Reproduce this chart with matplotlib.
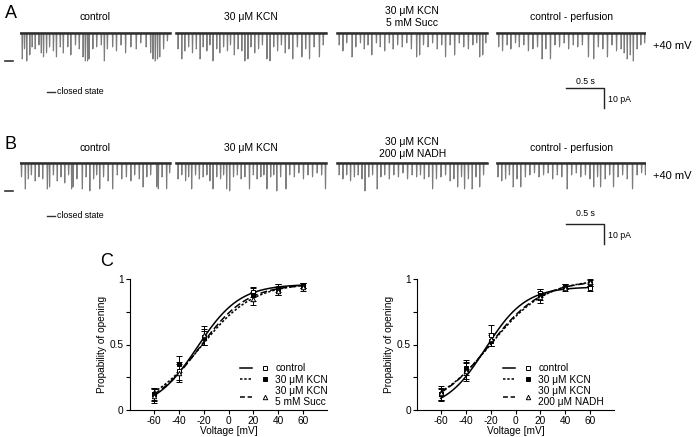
import numpy as np
import matplotlib
matplotlib.use("Agg")
import matplotlib.pyplot as plt
from matplotlib.lines import Line2D
from matplotlib.legend_handler import HandlerTuple

plt.rcParams['font.family'] = ['Liberation Sans', 'DejaVu Sans']
plt.rcParams['axes.unicode_minus'] = False

# ---------------- data: single-channel traces (event time [s], depth [pA]) ----------------
seg_titles_A = ["control", "30 \u03bcM KCN", "30 \u03bcM KCN\n5 mM Succ", "control - perfusion"]
seg_titles_B = ["control", "30 \u03bcM KCN", "30 \u03bcM KCN\n200 \u03bcM NADH", "control - perfusion"]

A1_t = [0.03,0.06,0.09,0.13,0.16,0.20,0.25,0.28,0.31,0.35,0.39,0.44,0.48,0.53,0.57,0.63,0.67,0.73,0.78,0.83,0.86,0.89,0.91,0.96,1.01,1.07,1.11,1.15,1.22,1.27,1.33,1.39,1.46,1.53,1.59,1.66,1.72,1.75,1.78,1.81,1.84,1.89,1.94]
A1_d = [13,8,14,11,7,8,6,10,12,10,7,9,12,7,10,7,11,6,8,12,14,14,13,8,7,6,14,8,7,9,6,10,7,8,5,7,10,13,14,13,12,8,4]
A2_t = [0.03,0.08,0.12,0.17,0.22,0.27,0.32,0.36,0.41,0.45,0.49,0.54,0.58,0.63,0.68,0.72,0.77,0.82,0.87,0.91,0.95,0.99,1.04,1.09,1.14,1.2,1.24,1.29,1.34,1.39,1.44,1.49,1.54,1.6,1.66,1.71,1.76,1.82,1.89,1.94]
A2_d = [8,13,9,7,10,8,13,7,9,6,14,8,10,7,9,6,11,8,9,14,13,7,10,8,6,13,14,7,9,6,10,8,13,7,12,8,13,7,12,6]
A3_t = [0.03,0.08,0.13,0.2,0.25,0.31,0.36,0.41,0.46,0.52,0.57,0.63,0.69,0.74,0.8,0.86,0.92,0.98,1.05,1.09,1.14,1.2,1.26,1.32,1.38,1.43,1.49,1.55,1.61,1.67,1.73,1.79,1.84,1.88,1.92,1.96]
A3_d = [6,9,5,12,7,5,8,6,11,5,7,9,5,8,6,7,5,8,12,11,6,7,5,8,6,12,6,11,5,7,8,6,5,12,11,5]
A4_t = [0.03,0.08,0.14,0.19,0.25,0.3,0.36,0.42,0.48,0.54,0.6,0.65,0.71,0.77,0.83,0.89,0.95,1.01,1.07,1.13,1.21,1.28,1.34,1.4,1.46,1.52,1.58,1.64,1.68,1.72,1.76,1.8,1.85,1.9,1.95]
A4_d = [7,9,6,8,5,7,6,9,8,7,13,8,13,6,7,5,8,6,7,6,12,13,7,8,12,6,9,8,10,13,11,14,8,6,5]

B1_t = [0.02,0.07,0.11,0.15,0.2,0.25,0.3,0.36,0.39,0.44,0.49,0.54,0.59,0.64,0.68,0.7,0.75,0.82,0.87,0.92,0.97,1.01,1.05,1.1,1.16,1.22,1.28,1.34,1.4,1.46,1.51,1.57,1.62,1.67,1.72,1.8,1.82,1.87,1.93,1.97]
B1_d = [7,13,8,6,9,7,8,13,12,6,9,7,10,6,13,12,8,13,7,14,8,6,13,7,9,13,6,8,7,9,6,8,12,7,6,12,13,7,13,5]
B2_t = [0.03,0.08,0.13,0.17,0.21,0.26,0.31,0.36,0.41,0.45,0.49,0.54,0.59,0.63,0.67,0.71,0.76,0.81,0.86,0.91,0.97,1.02,1.07,1.12,1.16,1.2,1.25,1.29,1.33,1.38,1.45,1.5,1.56,1.62,1.68,1.74,1.8,1.86,1.92,1.97]
B2_d = [8,6,9,7,13,6,8,7,6,9,13,7,8,6,13,14,7,6,8,7,13,6,8,7,6,13,7,6,14,7,13,6,7,5,8,6,7,5,6,13]
B3_t = [0.03,0.08,0.13,0.18,0.23,0.28,0.33,0.37,0.42,0.47,0.53,0.58,0.63,0.69,0.75,0.81,0.87,0.93,0.99,1.05,1.1,1.15,1.21,1.26,1.31,1.37,1.43,1.49,1.54,1.59,1.64,1.68,1.73,1.78,1.83,1.88,1.93]
B3_d = [6,8,6,9,7,6,8,14,7,6,13,7,6,8,6,7,5,8,6,7,6,8,7,13,8,7,6,9,8,12,7,13,8,13,7,12,6]
B4_t = [0.02,0.07,0.12,0.17,0.22,0.27,0.32,0.38,0.44,0.5,0.56,0.62,0.68,0.74,0.8,0.86,0.93,0.99,1.05,1.11,1.17,1.23,1.28,1.33,1.37,1.43,1.49,1.54,1.6,1.66,1.72,1.79,1.85,1.91,1.96]
B4_d = [7,9,8,6,12,8,12,7,6,5,7,6,5,8,6,7,13,6,5,7,6,8,12,7,12,8,6,12,7,6,8,13,6,5,6]

seg_start = [0.0, 2.05, 4.17, 6.27]   # s
seg_len = 1.98                       # s
closed_level = 14                    # pA

# ---------------- data: open probability ----------------
voltage = [-60, -40, -20, 20, 40, 60]
L_ctrl = [0.12, 0.30, 0.55, 0.90, 0.93, 0.95]
L_ctrl_err = [0.05, 0.07, 0.05, 0.04, 0.03, 0.02]
L_kcn = [0.12, 0.35, 0.56, 0.88, 0.92, 0.95]
L_kcn_err = [0.04, 0.06, 0.06, 0.05, 0.04, 0.02]
L_succ = [0.11, 0.28, 0.57, 0.85, 0.91, 0.94]
L_succ_err = [0.06, 0.07, 0.07, 0.05, 0.03, 0.03]

R_ctrl = [0.12, 0.30, 0.57, 0.89, 0.94, 0.93]
R_ctrl_err = [0.05, 0.08, 0.08, 0.03, 0.02, 0.02]
R_kcn = [0.12, 0.32, 0.53, 0.88, 0.94, 0.97]
R_kcn_err = [0.04, 0.05, 0.04, 0.04, 0.02, 0.02]
R_nadh = [0.13, 0.30, 0.54, 0.86, 0.93, 0.98]
R_nadh_err = [0.05, 0.06, 0.05, 0.04, 0.02, 0.02]

# Boltzmann fit parameters (Pmax, V1/2, slope)
L_fit = {"ctrl": (0.96, -25, 17), "kcn": (0.97, -22, 21), "third": (0.96, -23, 19)}
R_fit = {"ctrl": (0.94, -24, 16), "kcn": (1.00, -20, 22), "third": (0.99, -21, 21)}

legend_L = ["control", "30 \u03bcM KCN", "30 \u03bcM KCN\n5 mM Succ"]
legend_R = ["control", "30 \u03bcM KCN", "30 \u03bcM KCN\n200 \u03bcM NADH"]

# ---------------- figure ----------------
W, H = 697, 437
fig = plt.figure(figsize=(W / 100, H / 100), dpi=100)

def px_axes(x0, y0, x1, y1):
    return fig.add_axes([x0 / W, 1 - y1 / H, (x1 - x0) / W, (y1 - y0) / H])

PX_S = 76.0   # px per second
PX_PA = 2.0   # px per pA


def trace_panel(letter, ytop, ybase, ybot, segs, titles, title_y, closed_y,
                sb_line, sb_bot, sb_txt, pa_txt):
    x0, x1 = 20, 646
    ax = px_axes(x0, ytop, x1, ybot)
    ax.set_xlim(0, (x1 - x0) / PX_S)
    ax.set_ylim(-(ybot - ybase) / PX_PA, (ybase - ytop) / PX_PA)
    ax.axis('off')
    py = lambda y: -(y - ybase) / PX_PA
    px = lambda x: (x - x0) / PX_S
    for k, (tt, dd) in enumerate(segs):
        s0 = seg_start[k]
        xs, ys = [s0], [0]
        for t, d in zip(tt, dd):
            xs += [s0 + t - 0.006, s0 + t - 0.002, s0 + t + 0.002, s0 + t + 0.006]
            ys += [0, -d, -d + 0.5, 0]
        xs.append(s0 + seg_len)
        ys.append(0)
        ax.plot(xs, ys, color='#7c7c7c', lw=0.7)
        ax.plot([s0, s0 + seg_len], [0.1, 0.1], color='#2e2e2e', lw=1.8)
        ax.text(s0 + seg_len / 2, py(title_y), titles[k], ha='center', va='center',
                fontsize=7.5, linespacing=1.2)
    ax.plot([px(5), px(13)], [-closed_level, -closed_level], color='#333333', lw=1.2, clip_on=False)
    ax.plot([px(47), px(55)], [py(closed_y), py(closed_y)], color='#333333', lw=1.0, clip_on=False)
    ax.text(px(57), py(closed_y), "closed state", fontsize=6.3, va='center', ha='left')
    ax.text(px(653), py(ybase + 13), "+40 mV", fontsize=8, va='center', ha='left')
    # scale bar
    t0 = px(566)
    ax.plot([t0, t0 + 0.5, t0 + 0.5], [py(sb_line), py(sb_line), py(sb_line) - 10],
            color='#222222', lw=1.0, clip_on=False)
    ax.text(t0 + 0.25, py(sb_txt), "0.5 s", fontsize=6.3, ha='center', va='center')
    ax.text(t0 + 0.55, py(pa_txt), "10 pA", fontsize=6.3, ha='left', va='center')
    fig.text(5 / W, 1 - (title_y - 3) / H, letter, fontsize=13, ha='left', va='center')
    return ax

segsA = [(A1_t, A1_d), (A2_t, A2_d), (A3_t, A3_d), (A4_t, A4_d)]
segsB = [(B1_t, B1_d), (B2_t, B2_d), (B3_t, B3_d), (B4_t, B4_d)]
trace_panel("A", 0, 33, 112, segsA, seg_titles_A, 17, 92, 88, 108, 81, 99)
trace_panel("B", 128, 163, 250, segsB, seg_titles_B, 148, 216, 224, 244, 213, 236)


def boltz(v, p):
    pmax, vh, k = p
    return pmax / (1 + np.exp((vh - v) / k))


def po_panel(x0, data, fits, labels, leg_x):
    ax = px_axes(x0, 279, x0 + 197, 410)
    ax.set_xlim(-79, 79)
    ax.set_ylim(0, 1)
    for s in ['top', 'right']:
        ax.spines[s].set_visible(False)
    for s in ['left', 'bottom']:
        ax.spines[s].set_linewidth(0.8)
    ax.set_xticks([-60, -40, -20, 0, 20, 40, 60])
    ax.set_yticks([0, 0.25, 0.5, 0.75, 1])
    ax.set_yticklabels(["0", "", "0.5", "", "1"])
    ax.tick_params(labelsize=7.3, length=3, width=0.8, pad=1.5)
    ax.set_xlabel("Voltage [mV]", fontsize=7.3, labelpad=0)
    ax.set_ylabel("Propability of opening", fontsize=7.3, labelpad=2)
    vv = np.linspace(-60, 60, 200)
    styles = [('-', 's', 'white', '-'),
              ((0, (1.6, 1.2)), 's', 'black', (0, (1.6, 1.2))),
              ((0, (4.5, 2)), '^', 'white', (0, (3.2, 1.8)))]
    handles = []
    for (y, e), key, (ls, mk, mfc, lls) in zip(data, ["ctrl", "kcn", "third"], styles):
        ax.plot(vv, boltz(vv, fits[key]), color='black', ls=ls, lw=1.1)
        ax.errorbar(voltage, y, yerr=e, fmt=mk, ms=3.2, mfc=mfc, mec='black', mew=0.7,
                    ecolor='black', elinewidth=0.7, capsize=2, capthick=0.7, clip_on=False)
        l1 = Line2D([], [], color='black', ls=lls, lw=1.1)
        l2 = Line2D([], [], ls='none', marker=mk, ms=3.2, mfc=mfc, mec='black', mew=0.7)
        handles.append((l1, l2))
    ax.legend(handles, labels, handler_map={tuple: HandlerTuple(ndivide=None, pad=0.7)},
              loc='lower left', bbox_to_anchor=((leg_x - x0) / 197, 0.02),
              fontsize=7.3, frameon=False, handlelength=3.0, handletextpad=0.5,
              labelspacing=0.12, borderpad=0, borderaxespad=0)
    return ax

po_panel(130, [(L_ctrl, L_ctrl_err), (L_kcn, L_kcn_err), (L_succ, L_succ_err)], L_fit, legend_L, 240)
po_panel(417, [(R_ctrl, R_ctrl_err), (R_kcn, R_kcn_err), (R_nadh, R_nadh_err)], R_fit, legend_R, 503)
fig.text(100 / W, 1 - 262 / H, "C", fontsize=13, ha='left', va='center')

fig.savefig("out.png", dpi=100)
